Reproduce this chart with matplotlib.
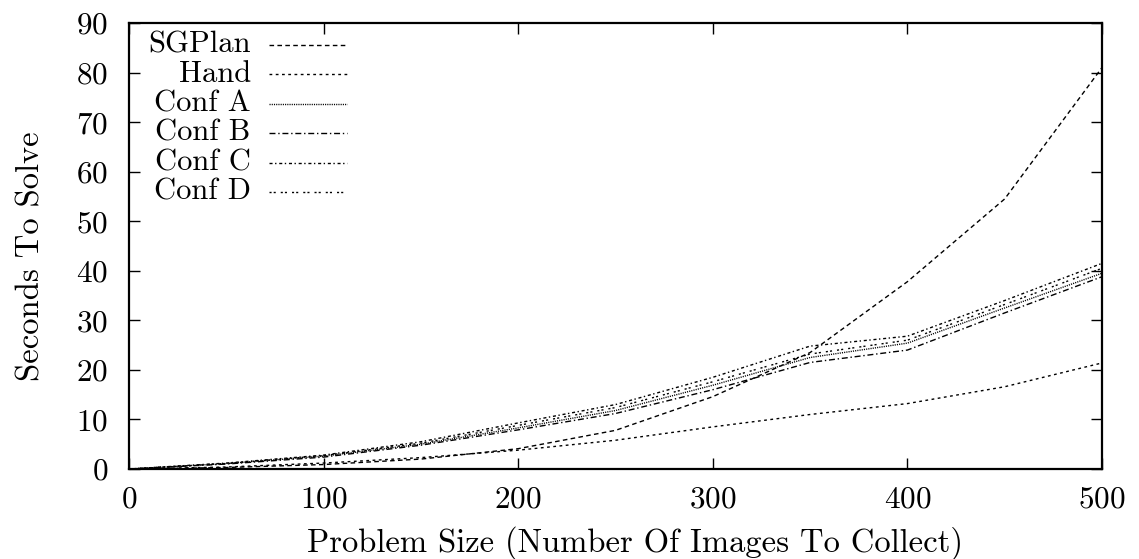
import matplotlib
matplotlib.use("Agg")
import matplotlib.pyplot as plt

plt.rcParams['font.family'] = ['cmr10', 'DejaVu Serif']
plt.rcParams['axes.formatter.use_mathtext'] = True
plt.rcParams['lines.scale_dashes'] = False

sizes = [0, 50, 100, 150, 200, 250, 300, 350, 400, 450, 500]
sgplan = [0, 0.3, 0.9, 2.0, 4.1, 7.8, 14.6, 23.5, 37.8, 54.5, 81.0]
hand = [0, 0.4, 1.2, 2.3, 3.8, 5.8, 8.5, 11.0, 13.2, 16.6, 21.4]
conf_a = [0, 1.1, 2.6, 5.0, 8.3, 11.8, 16.9, 22.5, 25.4, 32.5, 39.5]
conf_b = [0, 1.0, 2.4, 4.8, 7.9, 11.2, 16.0, 21.5, 24.0, 31.5, 38.8]
conf_c = [0, 1.2, 2.8, 5.5, 9.3, 13.0, 18.5, 24.8, 26.8, 34.0, 41.5]
conf_d = [0, 1.1, 2.7, 5.2, 8.8, 12.4, 17.6, 23.2, 26.0, 33.2, 40.5]

labels = ["SGPlan", "Hand", "Conf A", "Conf B", "Conf C", "Conf D"]
series = [sgplan, hand, conf_a, conf_b, conf_c, conf_d]
dashes = [
    (3.3, 2.4),
    (2.0, 2.5),
    (0.8, 0.8),
    (4.3, 2.0, 1.0, 2.0),
    (2.2, 1.8, 1.0, 2.0),
    (1.5, 1.5, 1.5, 3.6),
]

fig = plt.figure(figsize=(11.39, 5.59), dpi=100)
ax = fig.add_axes([129 / 1139, 1 - 469 / 559, 973 / 1139, 446 / 559])

for ys, d in zip(series, dashes):
    ax.plot(sizes, ys, color="black", lw=1.0, dashes=d)

# gnuplot-style key: text right aligned, sample to the right
for i, (name, d) in enumerate(zip(labels, dashes)):
    yy = 0.951 - i * 0.066
    ax.text(0.125, yy, name, transform=ax.transAxes, ha="right", va="center",
            fontsize=22)
    ax.plot([0.144, 0.224], [yy, yy], transform=ax.transAxes, color="black",
            lw=1.0, dashes=d)

ax.set_xlim(0, 500)
ax.set_ylim(0, 90)
ax.set_xticks(range(0, 501, 100))
ax.set_yticks(range(0, 91, 10))
ax.tick_params(direction="in", length=8, width=1, top=True, right=True,
               labelsize=22.5)
ax.tick_params(axis="y", pad=15)
ax.tick_params(axis="x", pad=12)
for s in ax.spines.values():
    s.set_linewidth(1.6)

ax.set_xlabel("Problem Size (Number Of Images To Collect)", fontsize=23.5)
ax.set_ylabel("Seconds To Solve", fontsize=23.5)
ax.xaxis.set_label_coords(0.52, -0.128)
ax.yaxis.set_label_coords(-0.086, 0.478)

fig.savefig("out.png", dpi=100)
